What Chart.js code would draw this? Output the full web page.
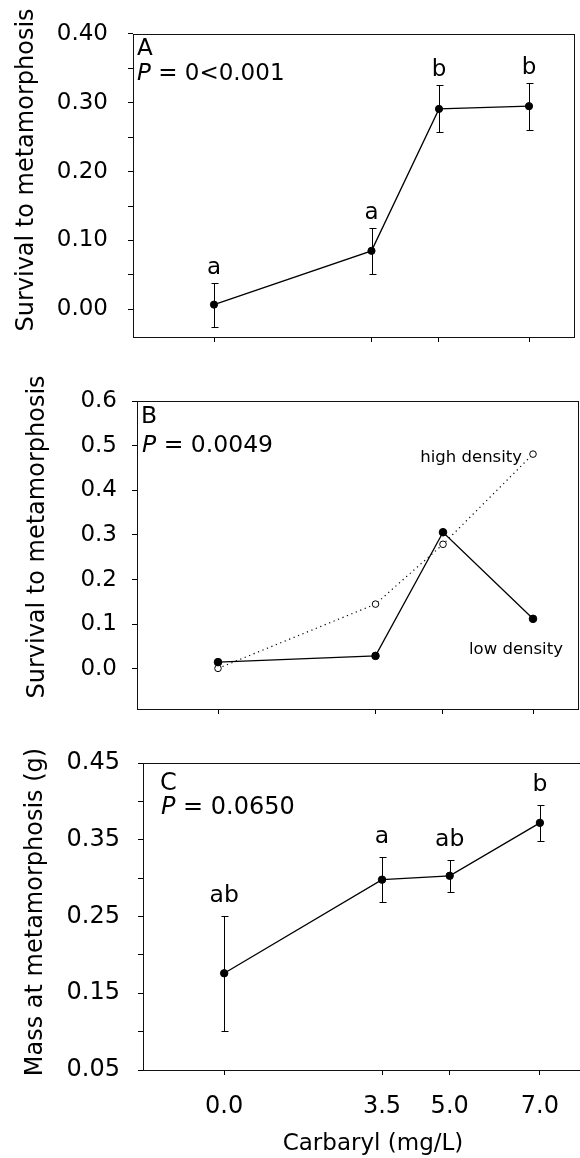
<!DOCTYPE html>
<html><head><meta charset="utf-8">
<script src="https://cdn.jsdelivr.net/npm/chart.js@4.4.1/dist/chart.umd.min.js"></script>
<style>
html,body{margin:0;padding:0;width:580px;height:1158px;overflow:hidden;background:#fff}
canvas{position:absolute;left:0;top:0}
</style></head><body>
<canvas id="cA" width="600" height="1158"></canvas>
<canvas id="cB" width="600" height="1158"></canvas>
<canvas id="cC" width="600" height="1158"></canvas>
<script>
// ---------- data ----------
const carbaryl = [0, 3.5, 5.0, 7.0];
const xTickValues = [0, 3.5, 5.0, 7.0];
const xTitle = 'Carbaryl (mg/L)';

// Panel A: survival to metamorphosis (mean ± SE)
const survivalMeanA = [0.007, 0.085, 0.291, 0.295];
const survivalSEA = [0.032, 0.033, 0.034, 0.034];
const lettersA = ['a', 'a', 'b', 'b'];
const yTicksA = [0.00, 0.05, 0.10, 0.15, 0.20, 0.25, 0.30, 0.35, 0.40];
const yLabelsA = [0.00, 0.10, 0.20, 0.30, 0.40];
const pValueA = '0<0.001';

// Panel B: survival by density
const survivalLowB = [0.015, 0.029, 0.306, 0.112];
const survivalHighB = [0.001, 0.145, 0.279, 0.481];
const yTicksB = [0.0, 0.1, 0.2, 0.3, 0.4, 0.5, 0.6];
const yLabelsB = [0.0, 0.1, 0.2, 0.3, 0.4, 0.5, 0.6];
const pValueB = '0.0049';

// Panel C: mass at metamorphosis (mean ± SE)
const massMeanC = [0.176, 0.298, 0.303, 0.372];
const massSEC = [0.075, 0.029, 0.021, 0.023];
const lettersC = ['ab', 'a', 'ab', 'b'];
const yTicksC = [0.05, 0.10, 0.15, 0.20, 0.25, 0.30, 0.35, 0.40, 0.45];
const yLabelsC = [0.05, 0.15, 0.25, 0.35, 0.45];
const pValueC = '0.0650';

// ---------- drawing ----------
const FONT = '"DejaVu Sans", sans-serif';
Chart.defaults.font.family = FONT;
Chart.defaults.color = '#000';

const pts = arr => carbaryl.map((x, i) => ({x: x, y: arr[i]}));

function txt(ctx, s, x, y, size, italic, align) {
  ctx.font = (italic ? 'italic ' : '') + size + 'px ' + FONT;
  ctx.textAlign = align || 'left';
  ctx.textBaseline = 'alphabetic';
  ctx.fillStyle = '#000';
  ctx.fillText(s, x, y);
  return ctx.measureText(s).width;
}

const DECOR = {
  cA: {
    errors: {means: survivalMeanA, se: survivalSEA},
    letters: {labels: lettersA, gap: 9, size: 23},
    tag: {letter: 'A', p: pValueA, dxA: 4, dyA: 21, dxP: 4, dyP: 46, size: 23},
    yTitle: {text: 'Survival to metamorphosis', x: 33, cy: 170, size: 24}
  },
  cB: {
    tag: {letter: 'B', p: pValueB, dxA: 4, dyA: 22, dxP: 5, dyP: 51, size: 23.5},
    yTitle: {text: 'Survival to metamorphosis', x: 44, cy: 537, size: 24},
    notes: [
      {text: 'high density', series: survivalHighB, idx: 3, dx: -11, dy: 8, align: 'right', size: 16.5},
      {text: 'low density', series: survivalLowB, idx: 3, dx: -64, dy: 35, align: 'left', size: 16.5}
    ]
  },
  cC: {
    errors: {means: massMeanC, se: massSEC},
    letters: {labels: lettersC, gap: 14, size: 23.5},
    tag: {letter: 'C', p: pValueC, dxA: 17, dyA: 27, dxP: 18, dyP: 51, size: 24},
    yTitle: {text: 'Mass at metamorphosis (g)', x: 42, cy: 912, size: 24},
    xTitle: {text: xTitle, cx: 373, y: 1150, size: 23}
  }
};

const decorPlugin = {
  id: 'panelDecor',
  beforeDatasetsDraw(chart) {
    const d = DECOR[chart.canvas.id];
    if (!d || !d.errors) return;
    const ctx = chart.ctx, xs = chart.scales.x, ys = chart.scales.y;
    ctx.save();
    ctx.strokeStyle = '#000';
    ctx.lineWidth = 1;
    carbaryl.forEach((xv, i) => {
      const x = Math.round(xs.getPixelForValue(xv)) + 0.5;
      const yt = Math.round(ys.getPixelForValue(d.errors.means[i] + d.errors.se[i])) + 0.5;
      const yb = Math.round(ys.getPixelForValue(d.errors.means[i] - d.errors.se[i])) + 0.5;
      ctx.beginPath();
      ctx.moveTo(x, yt); ctx.lineTo(x, yb);
      ctx.moveTo(x - 3, yt); ctx.lineTo(x + 4, yt);
      ctx.moveTo(x - 3, yb); ctx.lineTo(x + 4, yb);
      ctx.stroke();
    });
    ctx.restore();
  },
  afterDraw(chart) {
    const d = DECOR[chart.canvas.id];
    if (!d) return;
    const ctx = chart.ctx, xs = chart.scales.x, ys = chart.scales.y, a = chart.chartArea;
    ctx.save();
    // frame
    ctx.strokeStyle = '#111';
    ctx.lineWidth = 1;
    ctx.strokeRect(Math.round(a.left) + 0.5, Math.round(a.top) + 0.5,
                   Math.round(a.right - a.left), Math.round(a.bottom - a.top));
    // significance letters
    if (d.letters) {
      carbaryl.forEach((xv, i) => {
        const x = xs.getPixelForValue(xv);
        const y = ys.getPixelForValue(d.errors.means[i] + d.errors.se[i]) - d.letters.gap;
        txt(ctx, d.letters.labels[i], x, y, d.letters.size, false, 'center');
      });
    }
    // panel tag and P value
    if (d.tag) {
      const t = d.tag;
      txt(ctx, t.letter, a.left + t.dxA, a.top + t.dyA, t.size);
      const w = txt(ctx, 'P', a.left + t.dxP, a.top + t.dyP, t.size, true);
      txt(ctx, ' = ' + t.p, a.left + t.dxP + w, a.top + t.dyP, t.size);
    }
    // series notes
    (d.notes || []).forEach(n => {
      const x = xs.getPixelForValue(carbaryl[n.idx]) + n.dx;
      const y = ys.getPixelForValue(n.series[n.idx]) + n.dy;
      txt(ctx, n.text, x, y, n.size, false, n.align);
    });
    // y axis title
    if (d.yTitle) {
      ctx.save();
      ctx.translate(d.yTitle.x, d.yTitle.cy);
      ctx.rotate(-Math.PI / 2);
      txt(ctx, d.yTitle.text, 0, 0, d.yTitle.size, false, 'center');
      ctx.restore();
    }
    if (d.xTitle) {
      txt(ctx, d.xTitle.text, d.xTitle.cx, d.xTitle.y, d.xTitle.size, false, 'center');
    }
    ctx.restore();
  }
};

function panel(id, o) {
  const labelSet = o.yLabels;
  return new Chart(document.getElementById(id), {
    type: 'line',
    data: {datasets: o.datasets},
    options: {
      responsive: false,
      animation: false,
      events: [],
      layout: {padding: {top: o.padTop, right: o.padRight, left: 0, bottom: 0}},
      plugins: {legend: {display: false}, tooltip: {enabled: false}},
      scales: {
        x: {
          type: 'linear', min: -1.8, max: 8.0,
          afterBuildTicks: s => { s.ticks = xTickValues.map(v => ({value: v})); },
          afterFit: s => { s.height = o.xHeight; },
          grid: {drawOnChartArea: false, drawTicks: true, tickLength: 5, color: '#000', lineWidth: 1},
          border: {display: false},
          ticks: {display: o.showX, autoSkip: false, maxRotation: 0, padding: 17,
                  font: {size: 24}, color: '#000',
                  callback: v => Number(v).toFixed(1)}
        },
        y: {
          type: 'linear', min: o.ymin, max: o.ymax,
          afterBuildTicks: s => { s.ticks = o.yTicks.map(v => ({value: v})); },
          afterFit: s => { s.width = o.yWidth; },
          grid: {drawOnChartArea: false, drawTicks: true, tickLength: 5, color: '#000', lineWidth: 1},
          border: {display: false},
          ticks: {autoSkip: false, padding: o.yPad, font: {size: o.tickSize}, color: '#000',
                  callback: v => labelSet.some(l => Math.abs(l - v) < 1e-9) ? Number(v).toFixed(o.dec) : ''}
        }
      }
    },
    plugins: [decorPlugin]
  });
}

const solid = (arr, r) => ({
  data: pts(arr), borderColor: '#000', borderWidth: 1.3, tension: 0,
  pointRadius: r, pointBackgroundColor: '#000', pointBorderColor: '#000', pointBorderWidth: 1
});

panel('cA', {
  padTop: 28, padRight: 26, xHeight: 821, yWidth: 133, yPad: 20, tickSize: 23,
  ymin: -0.04, ymax: 0.40, yTicks: yTicksA, yLabels: yLabelsA, dec: 2, showX: false,
  datasets: [solid(survivalMeanA, 3.6)]
});

panel('cB', {
  padTop: 401, padRight: 22, xHeight: 449, yWidth: 137, yPad: 15, tickSize: 23,
  ymin: -0.09, ymax: 0.60, yTicks: yTicksB, yLabels: yLabelsB, dec: 1, showX: false,
  datasets: [
    Object.assign(solid(survivalLowB, 3.8), {order: 0}),
    {data: pts(survivalHighB), order: 1, borderColor: '#000', borderWidth: 1.2, borderDash: [1.2, 3.6],
     tension: 0, pointRadius: 3.3, pointBackgroundColor: '#fff', pointBorderColor: '#000', pointBorderWidth: 1}
  ]
});

panel('cC', {
  padTop: 763, padRight: 15, xHeight: 88, yWidth: 143, yPad: 18, tickSize: 24,
  ymin: 0.05, ymax: 0.45, yTicks: yTicksC, yLabels: yLabelsC, dec: 2, showX: true,
  datasets: [solid(massMeanC, 3.7)]
});
</script>
</body></html>
